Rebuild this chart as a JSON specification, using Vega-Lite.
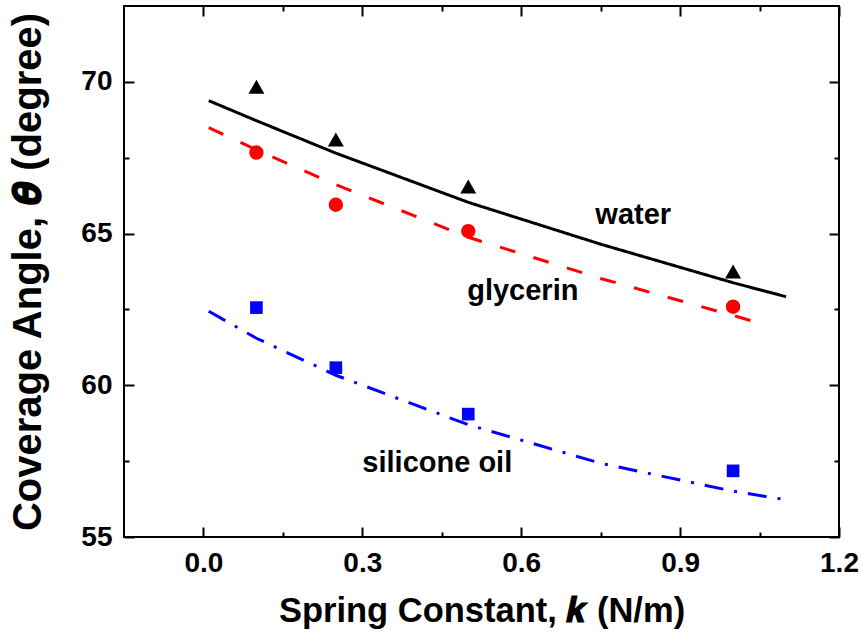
{
  "$schema": "https://vega.github.io/schema/vega-lite/v6.json",
  "width": 715,
  "height": 531,
  "autosize": {"type": "none"},
  "padding": {"left": 124, "top": 6, "right": 23, "bottom": 98},
  "background": "white",
  "config": {
    "view": {"stroke": "black", "strokeWidth": 2},
    "font": "Liberation Sans",
    "axis": {
      "labelFont": "Liberation Sans",
      "labelFontWeight": "bold",
      "labelFontSize": 28,
      "labelColor": "black",
      "titleFont": "Liberation Sans",
      "titleFontWeight": "bold",
      "titleColor": "black",
      "domain": false,
      "grid": false,
      "tickColor": "black",
      "tickWidth": 2
    }
  },
  "datasets": {
    "measured": [
      {"k": 0.1, "angle": 69.84, "liquid": "water"},
      {"k": 0.25, "angle": 68.1, "liquid": "water"},
      {"k": 0.5, "angle": 66.55, "liquid": "water"},
      {"k": 1.0, "angle": 63.75, "liquid": "water"},
      {"k": 0.1, "angle": 67.67, "liquid": "glycerin"},
      {"k": 0.25, "angle": 65.95, "liquid": "glycerin"},
      {"k": 0.5, "angle": 65.08, "liquid": "glycerin"},
      {"k": 1.0, "angle": 62.59, "liquid": "glycerin"},
      {"k": 0.1, "angle": 62.56, "liquid": "silicone oil"},
      {"k": 0.25, "angle": 60.58, "liquid": "silicone oil"},
      {"k": 0.5, "angle": 59.05, "liquid": "silicone oil"},
      {"k": 1.0, "angle": 57.18, "liquid": "silicone oil"}
    ],
    "fits": [
      {"k": 0.01, "angle": 69.38, "liquid": "water"},
      {"k": 0.1, "angle": 68.72, "liquid": "water"},
      {"k": 0.25, "angle": 67.65, "liquid": "water"},
      {"k": 0.5, "angle": 66.03, "liquid": "water"},
      {"k": 0.75, "angle": 64.65, "liquid": "water"},
      {"k": 1.0, "angle": 63.38, "liquid": "water"},
      {"k": 1.1, "angle": 62.92, "liquid": "water"},
      {"k": 0.01, "angle": 68.49, "liquid": "glycerin"},
      {"k": 0.1, "angle": 67.76, "liquid": "glycerin"},
      {"k": 0.25, "angle": 66.61, "liquid": "glycerin"},
      {"k": 0.5, "angle": 64.88, "liquid": "glycerin"},
      {"k": 0.75, "angle": 63.52, "liquid": "glycerin"},
      {"k": 1.0, "angle": 62.3, "liquid": "glycerin"},
      {"k": 1.066, "angle": 61.97, "liquid": "glycerin"},
      {"k": 0.01, "angle": 62.44, "liquid": "silicone oil"},
      {"k": 0.1, "angle": 61.55, "liquid": "silicone oil"},
      {"k": 0.25, "angle": 60.33, "liquid": "silicone oil"},
      {"k": 0.5, "angle": 58.7, "liquid": "silicone oil"},
      {"k": 0.75, "angle": 57.43, "liquid": "silicone oil"},
      {"k": 1.0, "angle": 56.51, "liquid": "silicone oil"},
      {"k": 1.092, "angle": 56.25, "liquid": "silicone oil"}
    ],
    "labels": [
      {"k": 0.74, "angle": 65.33, "label": "water"},
      {"k": 0.498, "angle": 62.8, "label": "glycerin"},
      {"k": 0.3, "angle": 57.13, "label": "silicone oil"}
    ]
  },
  "layer": [
    {
      "layer": [
        {
          "data": {"name": "fits"},
          "mark": {"type": "line", "strokeWidth": 3, "strokeCap": "butt", "clip": true},
          "encoding": {
            "x": {
              "field": "k", "type": "quantitative",
              "scale": {"domain": [-0.15, 1.2], "nice": false, "zero": false},
              "axis": {
                "orient": "bottom",
                "title": "Spring Constant, 𝒌 (N/m)",
                "titleFontSize": 34.5,
                "titlePadding": 12,
                "values": [0, 0.15, 0.3, 0.45, 0.6, 0.75, 0.9, 1.05, 1.2],
                "labelExpr": "abs(datum.value*10/3 - round(datum.value*10/3)) < 0.01 ? format(datum.value, '.1f') : ''",
                "tickSize": {"condition": {"test": "abs(datum.value*10/3 - round(datum.value*10/3)) < 0.01", "value": -10}, "value": -5},
                "labelPadding": 22,
                "labelFlush": false,
                "labelOverlap": false
              }
            },
            "y": {
              "field": "angle", "type": "quantitative",
              "scale": {"domain": [55, 72.5], "nice": false, "zero": false},
              "axis": {
                "orient": "left",
                "title": "Coverage Angle, 𝜽 (degree)",
                "titleFontSize": 40,
                "titlePadding": 32,
                "values": [55, 57.5, 60, 62.5, 65, 67.5, 70],
                "labelExpr": "datum.value % 5 == 0 ? format(datum.value, 'd') : ''",
                "tickSize": {"condition": {"test": "datum.value % 5 == 0", "value": -10}, "value": -5},
                "labelPadding": 22,
                "labelFlush": false,
                "labelOverlap": false
              }
            },
            "color": {
              "field": "liquid", "type": "nominal",
              "scale": {"domain": ["water", "glycerin", "silicone oil"], "range": ["#000000", "#ff0000", "#0000ff"]},
              "legend": null
            },
            "strokeDash": {
              "field": "liquid", "type": "nominal",
              "scale": {"domain": ["water", "glycerin", "silicone oil"], "range": [[1, 0], [16, 19], [19, 11, 3, 11]]},
              "legend": null
            }
          }
        },
        {
          "data": {"name": "measured"},
          "mark": {"type": "point", "filled": true, "opacity": 1, "strokeWidth": 0},
          "encoding": {
            "x": {"field": "k", "type": "quantitative"},
            "y": {"field": "angle", "type": "quantitative"},
            "color": {"field": "liquid", "type": "nominal", "legend": null},
            "shape": {
              "field": "liquid", "type": "nominal",
              "scale": {"domain": ["water", "glycerin", "silicone oil"], "range": ["triangle-up", "circle", "square"]},
              "legend": null
            },
            "size": {
              "field": "liquid", "type": "nominal",
              "scale": {"domain": ["water", "glycerin", "silicone oil"], "range": [256, 160, 150]},
              "legend": null
            }
          }
        },
        {
          "data": {"name": "labels"},
          "mark": {"type": "text", "align": "left", "baseline": "alphabetic", "font": "Liberation Sans", "fontWeight": "bold", "fontSize": 29, "color": "black"},
          "encoding": {
            "x": {"field": "k", "type": "quantitative"},
            "y": {"field": "angle", "type": "quantitative"},
            "text": {"field": "label", "type": "nominal"}
          }
        }
      ]
    },
    {
      "data": {"name": "measured"},
      "mark": {"type": "point", "opacity": 0},
      "encoding": {
        "x": {
          "field": "k", "type": "quantitative",
          "scale": {"domain": [-0.15, 1.2], "nice": false, "zero": false},
          "axis": {
            "orient": "top", "title": null, "labels": false,
            "values": [0, 0.15, 0.3, 0.45, 0.6, 0.75, 0.9, 1.05, 1.2],
            "tickSize": {"condition": {"test": "abs(datum.value*10/3 - round(datum.value*10/3)) < 0.01", "value": -10}, "value": -5}
          }
        },
        "y": {
          "field": "angle", "type": "quantitative",
          "scale": {"domain": [55, 72.5], "nice": false, "zero": false},
          "axis": {
            "orient": "right", "title": null, "labels": false,
            "values": [55, 57.5, 60, 62.5, 65, 67.5, 70],
            "tickSize": {"condition": {"test": "datum.value % 5 == 0", "value": -10}, "value": -5}
          }
        }
      }
    }
  ],
  "resolve": {
    "scale": {"x": "independent", "y": "independent"},
    "axis": {"x": "independent", "y": "independent"}
  }
}
